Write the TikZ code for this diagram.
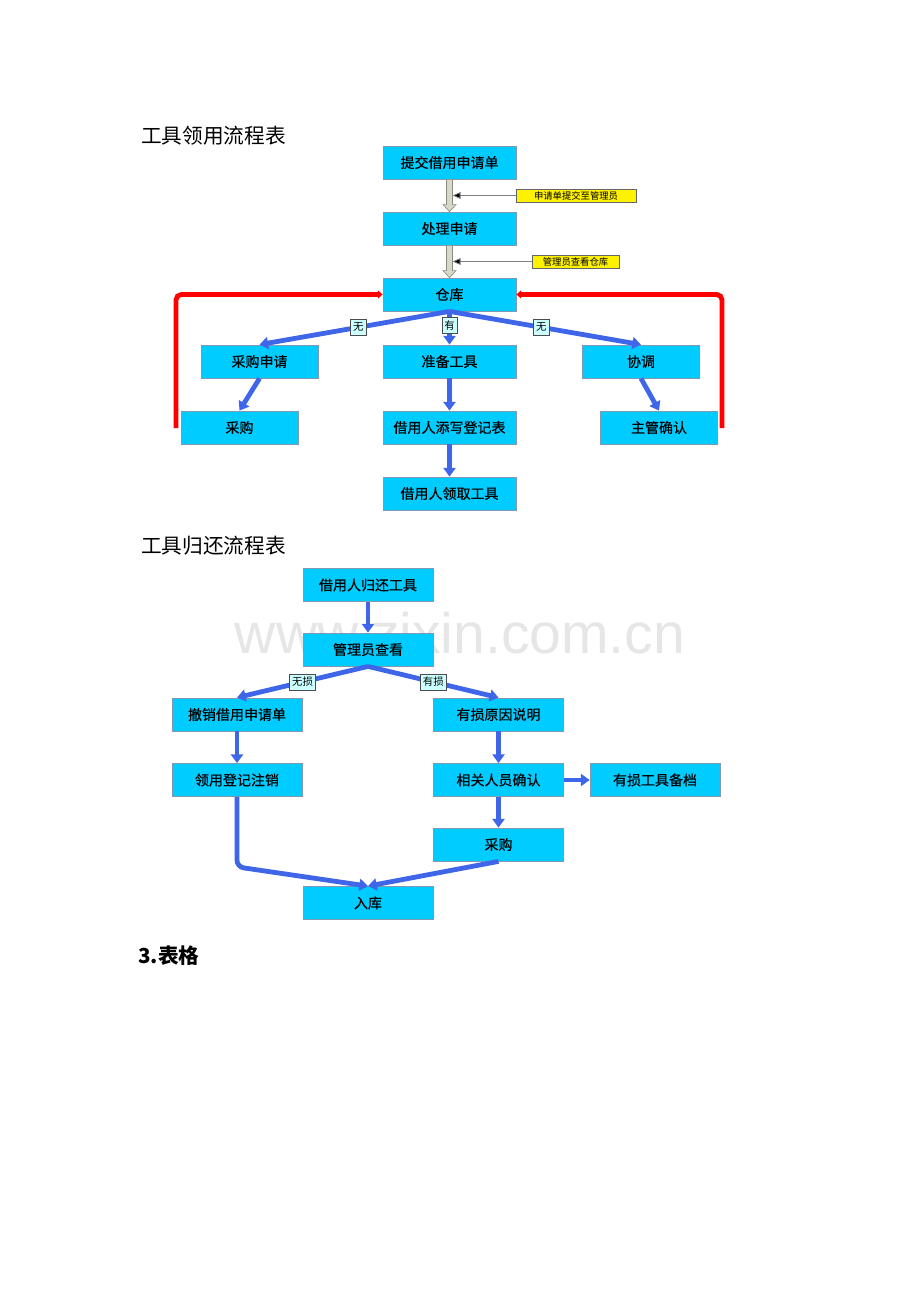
\documentclass[tikz,border=0pt]{standalone}
\usepackage{fontspec}
\setmainfont{Noto Sans CJK SC}
\newfontfamily\boxfont{Noto Sans CJK SC}[FakeBold=0.35]
\newfontfamily\wmfont{Liberation Sans}
\usetikzlibrary{arrows.meta,calc}
\definecolor{boxcyan}{HTML}{00CCFF}
\definecolor{boxedge}{HTML}{7F99B2}
\definecolor{flowblue}{HTML}{3F66E8}
\definecolor{lblfill}{HTML}{CCFFFF}
\definecolor{hollowfill}{HTML}{D6D9C8}
\definecolor{hollowedge}{HTML}{8C8C80}
\definecolor{wmgray}{HTML}{E6E6E6}
\tikzset{
  box/.style={draw=boxedge, line width=0.6pt, fill=boxcyan, minimum height=24.75pt, inner sep=0pt, font=\boxfont\fontsize{10.5pt}{12pt}\selectfont},
  wA/.style={minimum width=99.75pt},
  wB/.style={minimum width=87.75pt},
  wC/.style={minimum width=97.5pt},
  flow/.style={draw=flowblue, line width=3.6pt, -{Triangle[width=9pt,length=6.5pt]}},
  redline/.style={draw=red, line width=3.6pt, rounded corners=4pt, -{Triangle[width=6pt,length=3.5pt]}},
  lbl/.style={draw=black!70, line width=0.6pt, fill=lblfill, inner xsep=1.8pt, inner ysep=1.5pt, minimum height=12pt, font=\fontsize{7.8pt}{8pt}\selectfont},
  ylbl/.style={draw=black!60, line width=0.5pt, fill=yellow, inner sep=0pt, minimum height=9.75pt, font=\fontsize{7pt}{8pt}\selectfont},
  ptr/.style={draw=gray, line width=0.6pt, -{Triangle[width=5pt,length=6pt,fill=black]}},
  hollow/.style={draw=hollowedge, fill=hollowfill, line width=0.5pt},
  title/.style={anchor=west, inner sep=0pt, font=\fontsize{15.5pt}{17pt}\selectfont}
}
\begin{document}
\begin{tikzpicture}[x=0.75pt,y=-0.75pt]
\useasboundingbox (0,0) rectangle (920,1302);
% watermark
\node[text=wmgray, font=\wmfont\fontsize{42.8pt}{44pt}\selectfont] (wm) at (460,633) {www.zixin.com.cn};

% titles
\node[title] (t1) at (141,136) {工具领用流程表};
\node[title] (t2) at (141,546) {工具归还流程表};
\node[title, font=\fontsize{15.5pt}{17pt}\selectfont\bfseries] (t3) at (138,956) {3.表格};

% diagram 1
\node[box,wA] (a1) at (449.5,162.5) {提交借用申请单};
\node[box,wA] (a2) at (449.5,228.5) {处理申请};
\node[box,wA] (a3) at (449.5,294.5) {仓库};
\node[box,wB] (b1) at (259.5,361.5) {采购申请};
\node[box,wA] (b2) at (449.5,361.5) {准备工具};
\node[box,wB] (b3) at (641,361.5) {协调};
\node[box,wB] (c1) at (239.5,427.5) {采购};
\node[box,wA] (c2) at (449.5,427.5) {借用人添写登记表};
\node[box,wB] (c3) at (659,427.5) {主管确认};
\node[box,wA] (d2) at (449.5,493.5) {借用人领取工具};

% hollow arrows
\foreach \s/\e in {a1/a2,a2/a3}{
  \draw[hollow] ($(\s.south)+(-3,0)$) -- ($(\s.south)+(3,0)$) -- ($(\e.north)+(3,-7)$) -- ($(\e.north)+(6.5,-7)$) -- (\e.north) -- ($(\e.north)+(-6.5,-7)$) -- ($(\e.north)+(-3,-7)$) -- cycle;
}
\node[ylbl, minimum width=90pt] (y1) at (576,195.5) {申请单提交至管理员};
\node[ylbl, minimum width=65.25pt] (y2) at (575.5,261.5) {管理员查看仓库};
\coordinate (p1) at (452.5,195.5);
\coordinate (p2) at (452.5,261.5);
\draw[ptr] (y1.west) -- (p1);
\draw[ptr] (y2.west) -- (p2);

% red feedback lines
\coordinate (rl) at (176,428);
\coordinate (rr) at (722,428);
\draw[redline] (rl) |- (a3.west);
\draw[redline] (rr) |- (a3.east);

% blue flows
\draw[flow] (a3.south) -- (b1.north) node[lbl,pos=0.48] (l1) {无};
\draw[flow] (a3.south) -- (b2.north) node[lbl,pos=0.42] (l2) {有};
\draw[flow] (a3.south) -- (b3.north) node[lbl,pos=0.48] (l3) {无};
\draw[flow] (b1.south) -- (c1.north);
\draw[flow] (b2.south) -- (c2.north);
\draw[flow] (b3.south) -- (c3.north);
\draw[flow] (c2.south) -- (d2.north);

% diagram 2
\node[box,wC] (e1) at (368,585) {借用人归还工具};
\node[box,wC] (e2) at (368,649.5) {管理员查看};
\node[box,wC] (f1) at (237,714.5) {撤销借用申请单};
\node[box,wC] (f2) at (498.5,714.5) {有损原因说明};
\node[box,wC] (g1) at (237,780) {领用登记注销};
\node[box,wC] (g2) at (498.5,780) {相关人员确认};
\node[box,wC] (g3) at (655,780) {有损工具备档};
\node[box,wC] (h2) at (498.5,844.5) {采购};
\node[box,wC] (k1) at (368,903) {入库};

\draw[flow] (e1.south) -- (e2.north);
\draw[flow] (e2.south) -- (f1.north) node[lbl,pos=0.5] (l4) {无损};
\draw[flow] (e2.south) -- (f2.north) node[lbl,pos=0.5] (l5) {有损};
\draw[flow] (f1.south) -- (g1.north);
\draw[flow] (f2.south) -- (g2.north);
\draw[flow] (g2.east) -- (g3.west);
\draw[flow] (g2.south) -- (h2.north);
\draw[flow, rounded corners=5pt] (g1.south) -- ++(0,70) -- (k1.north);
\draw[flow] (h2.south) -- (k1.north);
\end{tikzpicture}
\end{document}
